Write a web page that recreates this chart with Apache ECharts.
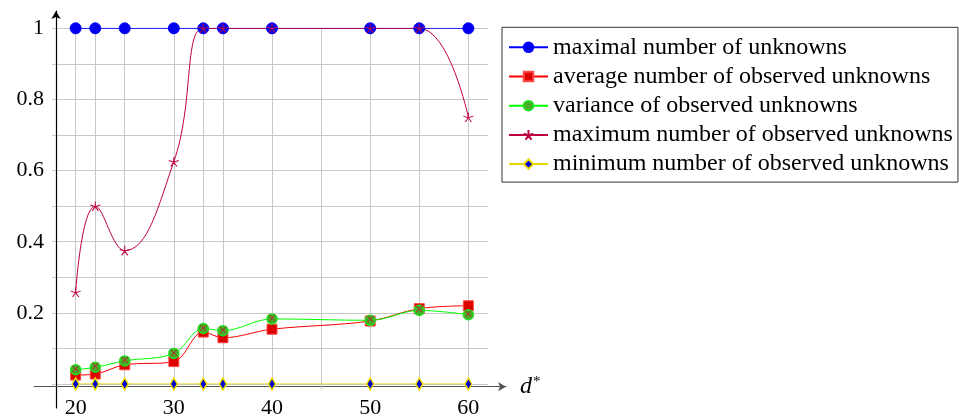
<!DOCTYPE html>
<html>
<head>
<meta charset="utf-8">
<script src="https://cdn.jsdelivr.net/npm/echarts@6/dist/echarts.min.js"></script>
<style>
  html, body { margin: 0; padding: 0; background: #fff; }
  #chart { width: 959px; height: 419px; }
</style>
</head>
<body>
<div id="chart"></div>
<script>
// d* values at which the runs were evaluated
const dValues = [20, 22, 25, 30, 33, 35, 40, 50, 55, 60];

// normalised unknown counts per run
const maximalUnknowns = [1, 1, 1, 1, 1, 1, 1, 1, 1, 1];
const averageObserved = [0.025, 0.028, 0.054, 0.063, 0.146, 0.130, 0.154, 0.177, 0.212, 0.220];
const varianceObserved = [0.040, 0.047, 0.065, 0.086, 0.156, 0.150, 0.183, 0.179, 0.207, 0.195];
const maximumObserved = [0.258, 0.5, 0.375, 0.625, 1, 1, 1, 1, 1, 0.75];
const minimumObserved = [0, 0, 0, 0, 0, 0, 0, 0, 0, 0];

// axis ticks
const xGridTicks = [20, 22, 25, 30, 33, 35, 40, 45, 50, 55, 60];
const xTickLabels = [20, 30, 40, 50, 60];
const yTickLabels = [0.2, 0.4, 0.6, 0.8, 1];

const seriesNames = [
  'maximal number of unknowns',
  'average number of observed unknowns',
  'variance of observed unknowns',
  'maximum number of observed unknowns',
  'minimum number of observed unknowns'
];

const pairs = (ys) => dValues.map((x, i) => [x, ys[i]]);

const SERIF = 'Liberation Serif';
const GRID_GRAY = '#c8c8c8';

// five-spoke asterisk, stroked only
const starPath = 'path://M0 0L0 -10M0 0L9.51 -3.09M0 0L5.88 8.09M0 0L-5.88 8.09M0 0L-9.51 -3.09';

const common = {
  type: 'line',
  xAxisIndex: 0,
  yAxisIndex: 0,
  smooth: 0.35,
  emphasis: { disabled: true },
  animation: false
};

const option = {
  backgroundColor: '#fff',
  animation: false,
  grid: [
    { left: 56, top: 28.3, width: 432, height: 358.4 },       // plotting area
    { left: 56, top: 11, width: 20, height: 397 },            // vertical axis line
    { left: 34, top: 386.7, width: 472, height: 10 }          // horizontal axis line
  ],
  xAxis: [
    {
      gridIndex: 0, type: 'value', min: 18, max: 62,
      axisLine: { show: false },
      axisTick: { show: true, length: 5, customValues: xGridTicks,
                  lineStyle: { color: GRID_GRAY, width: 1 } },
      axisLabel: { customValues: xTickLabels, color: '#000', fontFamily: SERIF,
                   fontSize: 22, margin: 13 },
      splitLine: { show: true, lineStyle: { color: GRID_GRAY, width: 1 } }
    },
    {
      gridIndex: 1, type: 'value', min: 0, max: 1, show: false
    },
    {
      gridIndex: 2, type: 'value', position: 'top', min: 0, max: 1,
      axisLine: { show: true, onZero: false, lineStyle: { color: '#555', width: 1.2 },
                  symbol: ['none', 'arrow'], symbolSize: [7, 8] },
      axisTick: { show: false }, axisLabel: { show: false }, splitLine: { show: false },
      name: '{d|d}{s|*}', nameLocation: 'end', nameGap: 14,
      nameTextStyle: {
        rich: {
          d: { fontFamily: SERIF, fontStyle: 'italic', fontSize: 24, color: '#000' },
          s: { fontFamily: SERIF, fontSize: 15, color: '#000', verticalAlign: 'top', padding: [0, 0, 8, 1] }
        }
      }
    }
  ],
  yAxis: [
    {
      gridIndex: 0, type: 'value', min: 0, max: 1, interval: 0.1,
      axisLine: { show: false },
      axisTick: { show: true, length: 4, lineStyle: { color: GRID_GRAY } },
      axisLabel: { customValues: yTickLabels, color: '#000', fontFamily: SERIF,
                   fontSize: 22, margin: 12, formatter: (v) => String(+v.toFixed(1)) },
      splitLine: { show: true, lineStyle: { color: GRID_GRAY, width: 1 } }
    },
    {
      gridIndex: 1, type: 'value', min: 0, max: 1, position: 'left',
      axisLine: { show: true, onZero: false, lineStyle: { color: '#000', width: 1.2 },
                  symbol: ['none', 'arrow'], symbolSize: [7, 8] },
      axisTick: { show: false }, axisLabel: { show: false }, splitLine: { show: false }
    },
    {
      gridIndex: 2, type: 'value', min: 0, max: 1, show: false
    }
  ],
  legend: {
    orient: 'vertical',
    left: 502, top: 27.3,
    padding: [8, 5, 6, 6],
    borderColor: '#333', borderWidth: 1,
    itemWidth: 39, itemHeight: 12, itemGap: 5.2,
    selectedMode: false,
    textStyle: { fontFamily: SERIF, fontSize: 24, lineHeight: 24, color: '#000' },
    data: seriesNames
  },
  series: [
    Object.assign({}, common, {
      name: seriesNames[0],
      data: pairs(maximalUnknowns),
      symbol: 'circle', symbolSize: 11,
      lineStyle: { color: '#0000ff', width: 1 },
      itemStyle: { color: '#0000ee', borderColor: '#0000ff', borderWidth: 1 }
    }),
    Object.assign({}, common, {
      name: seriesNames[1],
      data: pairs(averageObserved),
      symbol: 'rect', symbolSize: 10,
      lineStyle: { color: '#ff0000', width: 1 },
      itemStyle: { color: '#dd0000', borderColor: '#ff4a4a', borderWidth: 1 }
    }),
    Object.assign({}, common, {
      name: seriesNames[2],
      data: pairs(varianceObserved),
      symbol: 'circle', symbolSize: 10,
      lineStyle: { color: '#00ff00', width: 1 },
      itemStyle: { color: '#4aaa2a', borderColor: '#1ee01e', borderWidth: 1.5 },
      label: { show: true, position: 'inside', formatter: '×', color: '#a0402a',
               fontFamily: 'DejaVu Sans', fontSize: 12 }
    }),
    Object.assign({}, common, {
      name: seriesNames[3],
      data: pairs(maximumObserved),
      smooth: 0.45,
      symbol: starPath, symbolSize: [10, 9.5],
      lineStyle: { color: '#bf0040', width: 1 },
      itemStyle: { color: '#bf0040', borderColor: '#bf0040', borderWidth: 1 }
    }),
    Object.assign({}, common, {
      name: seriesNames[4],
      data: pairs(minimumObserved),
      symbol: 'diamond', symbolSize: [7, 12],
      lineStyle: { color: '#e6d600', width: 1.2 },
      itemStyle: { color: '#0000cc', borderColor: '#eedd00', borderWidth: 1.5 }
    })
  ]
};

const chart = echarts.init(document.getElementById('chart'), null, { renderer: 'canvas' });
chart.setOption(option);
</script>
</body>
</html>
